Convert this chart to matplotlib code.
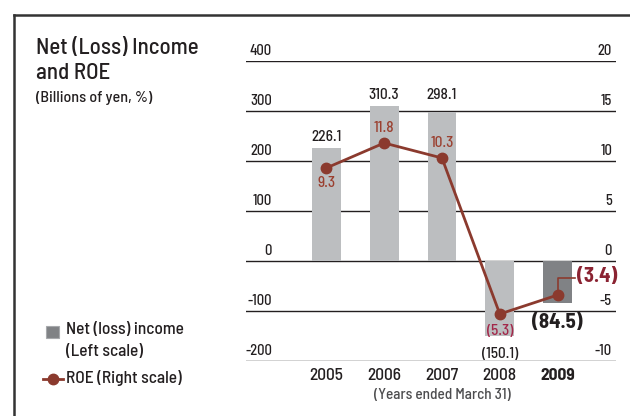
import matplotlib.pyplot as plt
import matplotlib.lines as mlines
import matplotlib.patches as patches

plt.rcParams['font.family'] = ['Barlow Semi Condensed', 'DejaVu Sans']
plt.rcParams['font.weight'] = 'medium'

years = ['2005', '2006', '2007', '2008', '2009']
net_income = [226.1, 310.3, 298.1, -150.1, -84.5]
income_labels = ['226.1', '310.3', '298.1', '(150.1)', '(84.5)']
roe = [9.3, 11.8, 10.3, -5.3, -3.4]
roe_labels = ['9.3', '11.8', '10.3', '(5.3)', '(3.4)']
left_ticks = [400, 300, 200, 100, 0, -100, -200]
right_ticks = [20, 15, 10, 5, 0, -5, -10]

BAR_GRAY = '#bcbec0'
BAR_DARK = '#808285'
ROE_RED = '#8b3a2e'
TXT = '#231f20'
W, H = 630, 416

fig = plt.figure(figsize=(W / 100, H / 100), dpi=100)


def fx(px):
    return px / W


def fy(py):
    return 1 - py / H


# frame (left + top rule)
fig.add_artist(mlines.Line2D([fx(13.5), fx(13.5)], [fy(15), 0], color='#333333', lw=1.8))
fig.add_artist(mlines.Line2D([fx(13.5), 1], [fy(15), fy(15)], color='#333333', lw=1.8))

# titles
fig.text(fx(36), fy(48), 'Net (Loss) Income', fontsize=16.5, va='center', color=TXT)
fig.text(fx(36), fy(73), 'and ROE', fontsize=16.5, va='center', color=TXT)
fig.text(fx(36), fy(98), '(Billions of yen, %)', fontsize=11.5, va='center', color=TXT)

ax = fig.add_axes([fx(246), fy(361), fx(616) - fx(246), (361 - 61) / H])
ax.set_ylim(-200, 400)
ax.set_xlim(-1.388, 5.009)
ax.axis('off')

x = list(range(len(years)))
colors = [BAR_GRAY] * 4 + [BAR_DARK]
ax.bar(x, net_income, width=0.5, color=colors, zorder=2)

# gridlines + left scale (100 units = 50 px)
for v in left_ticks:
    ax.axhline(v, color=TXT, lw=1.0, zorder=1)
    ax.text(-0.94, v + 20, str(v), fontsize=10.5, ha='right', va='center', color=TXT)

ax2 = ax.twinx()
ax2.set_ylim(-10, 20)
ax2.set_xlim(ax.get_xlim())
ax2.axis('off')
for v in right_ticks:
    ax2.text(4.94, v + 1.0, str(v), fontsize=10.5, ha='right', va='center', color=TXT)

# bar value labels
ax.text(0, net_income[0] + 22, income_labels[0], fontsize=11, ha='center', va='center', color=TXT)
ax.text(1, net_income[1] + 22, income_labels[1], fontsize=11, ha='center', va='center', color=TXT)
ax.text(2, 310.3 + 22, income_labels[2], fontsize=11, ha='center', va='center', color=TXT)
ax.text(3, net_income[3] - 36, income_labels[3], fontsize=11, ha='center', va='center', color=TXT)
ax.text(4, net_income[4] - 38, income_labels[4], fontsize=15, fontweight='bold',
        ha='center', va='center', color=TXT)

# ROE line
ax2.plot(x, roe, color=ROE_RED, lw=2, marker='o', markersize=7.5, zorder=4)
ax2.text(0, roe[0] - 1.5, roe_labels[0], fontsize=11, ha='center', va='center', color='#9b4030')
ax2.text(1, roe[1] + 1.45, roe_labels[1], fontsize=11, ha='center', va='center', color='#9b4030')
ax2.text(2, roe[2] + 1.5, roe_labels[2], fontsize=11, ha='center', va='center', color='#9b4030')
ax2.text(3, roe[3] - 1.7, roe_labels[3], fontsize=11, ha='center', va='center', color='#a3284a')
ax2.plot([4, 4, 4.3], [roe[4], -1.7, -1.7], color=ROE_RED, lw=1.2, zorder=3)
ax2.text(4.33, -1.5, roe_labels[4], fontsize=15, fontweight='bold', ha='left', va='center',
         color='#8b2332')

# year labels
for i, yr in enumerate(years):
    ax.text(i, -230, yr, fontsize=12.5, ha='center', va='center', color=TXT,
            fontweight='bold' if yr == '2009' else 'medium')
ax.text(2, -268, '(Years ended March 31)', fontsize=11, ha='center', va='center', color='#4d4d4f')

# legend
fig.add_artist(patches.Rectangle((fx(46), fy(338)), fx(13), 12 / H, facecolor=BAR_DARK,
                                 edgecolor='#a7a9ac', lw=0.8))
fig.text(fx(66), fy(330), 'Net (loss) income', fontsize=12.5, va='center', color=TXT)
fig.text(fx(66), fy(352), '(Left scale)', fontsize=12.5, va='center', color=TXT)
fig.add_artist(mlines.Line2D([fx(43), fx(53), fx(63)], [fy(379)] * 3, color=ROE_RED, lw=2,
                             marker='o', markersize=7.5, markevery=[1], markerfacecolor=ROE_RED))
fig.text(fx(66), fy(378), 'ROE (Right scale)', fontsize=12.5, va='center', color=TXT)

fig.savefig('out.png', dpi=100)
